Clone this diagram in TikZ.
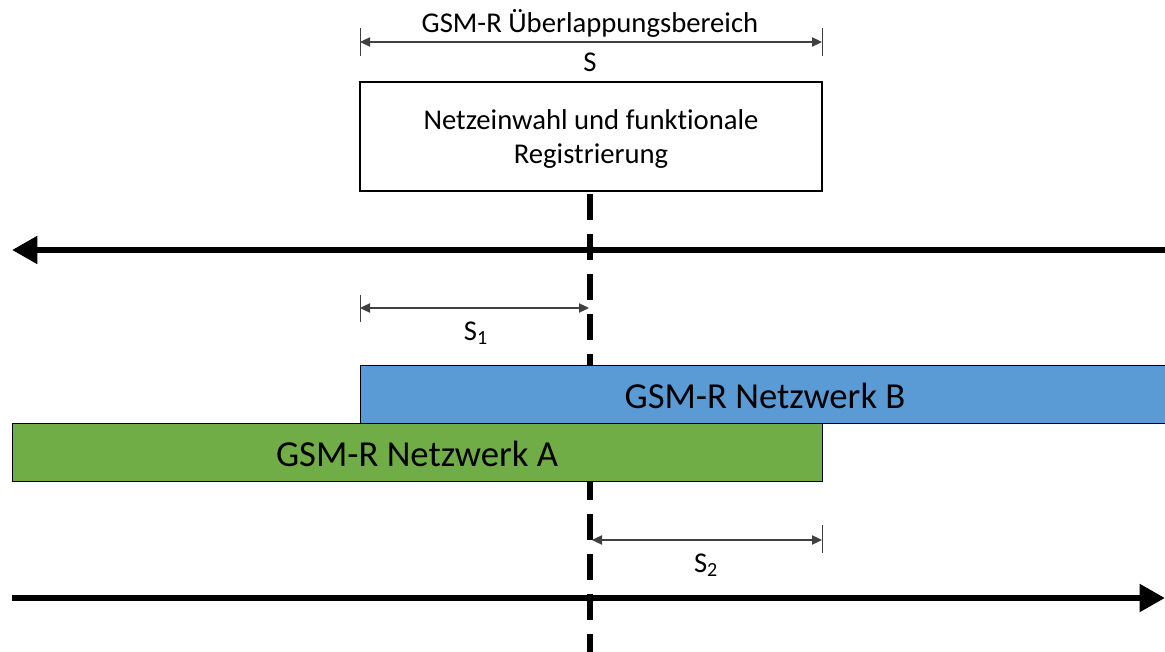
\documentclass[tikz,border=0pt]{standalone}
\usepackage{fontspec}
\setmainfont{Carlito}[Ligatures={NoCommon}]
\usetikzlibrary{arrows.meta}
\definecolor{netB}{HTML}{5B9BD5}
\definecolor{netA}{HTML}{70AD47}
\definecolor{dimgray}{HTML}{404040}
\tikzset{
  dimline/.style={draw=dimgray, line width=0.9pt, {Triangle[length=7.5pt,width=7pt]}-{Triangle[length=7.5pt,width=7pt]}},
  dimtick/.style={draw=dimgray, line width=0.75pt},
  track/.style={line width=4.5pt, -{Triangle[length=19pt,width=20pt]}},
  netbar/.style={draw=black, line width=1.1pt, minimum height=43.5pt, inner sep=0pt},
  bartext/.style={inner sep=0pt, font=\fontsize{27.5}{32}\selectfont},
  lbl/.style={inner sep=0pt, font=\fontsize{21.5}{25.5}\selectfont},
}
\begin{document}
\begin{tikzpicture}[x=0.75pt, y=-0.75pt]
\useasboundingbox (0,0) rectangle (1165,652);

% handover point, dashed
\coordinate (hoTop) at (590,191);
\coordinate (hoBot) at (590,652);
\draw[line width=3.8pt, dash pattern=on 20pt off 10pt, dash phase=-2pt] (hoTop) -- (hoBot);

% overlap range S
\coordinate (sL) at (360,42);
\coordinate (sR) at (822,42);
\draw[dimtick] (360,28) -- (360,56) (822,28) -- (822,56);
\draw[dimline] (sL) -- (sR);
\node[lbl] (overlap) at (590,23) {GSM-R Überlappungsbereich};
\node[lbl] (slabel) at (590,62) {S};

% registration box
\node[draw, line width=2pt, minimum width=346.5pt, minimum height=81.75pt, inner sep=0pt] (reg) at (591,136.5) {};
\node[lbl, align=center] (regtxt) at (591,139.5) {Netzeinwahl und funktionale\\Registrierung};

% direction of travel, upper track
\coordinate (upR) at (1165,250);
\coordinate (upL) at (12,250);
\draw[track] (upR) -- (upL);

% distance S1
\coordinate (s1L) at (360,308);
\coordinate (s1R) at (589,308);
\draw[dimtick] (360,295) -- (360,322);
\draw[dimline] (s1L) -- (s1R);
\node[lbl] (s1) at (476,333) {S\textsubscript{1}};

% network bars
\node[netbar, fill=netB, minimum width=606pt, anchor=north west] (netB) at (360,365) {};
\node[bartext] (netBtxt) at (765,396) {GSM-R Netzwerk B};
\node[netbar, fill=netA, minimum width=607.5pt, anchor=north west] (netA) at (12,423) {};
\node[bartext] (netAtxt) at (417,454) {GSM-R Netzwerk A};

% distance S2
\coordinate (s2L) at (592,540);
\coordinate (s2R) at (822,540);
\draw[dimtick] (822,525) -- (822,553);
\draw[dimline] (s2L) -- (s2R);
\node[lbl] (s2) at (706,565) {S\textsubscript{2}};

% direction of travel, lower track
\coordinate (loL) at (12,598);
\coordinate (loR) at (1165,598);
\draw[track] (loL) -- (loR);
\end{tikzpicture}
\end{document}
